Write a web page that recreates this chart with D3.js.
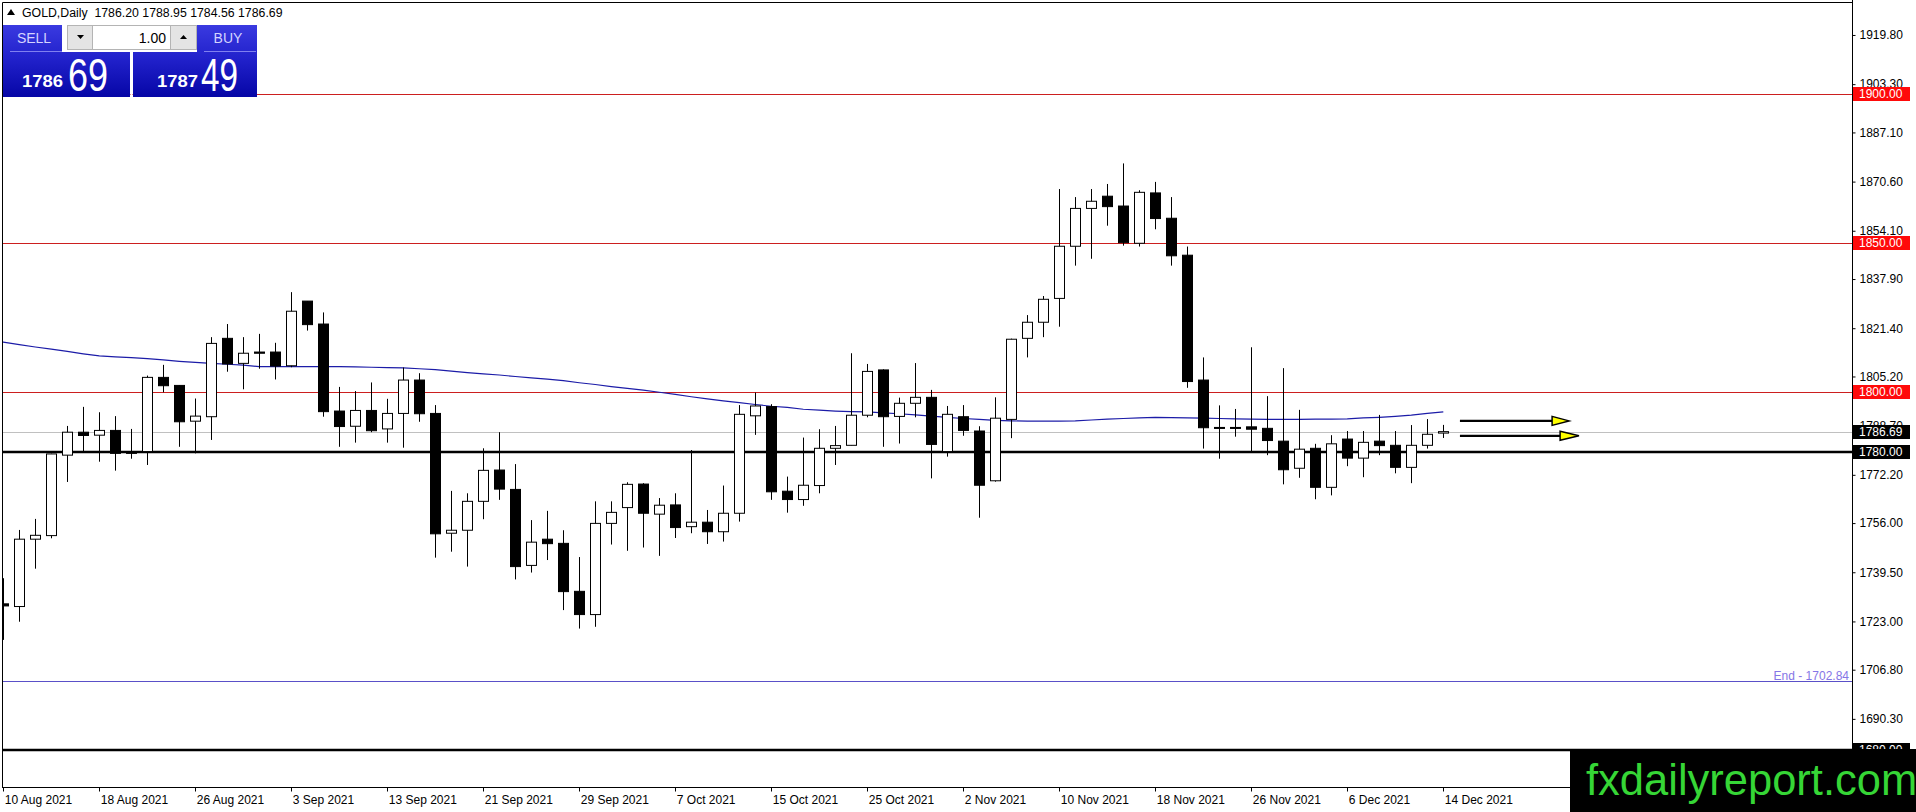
<!DOCTYPE html>
<html>
<head>
<meta charset="utf-8">
<script src="https://cdn.jsdelivr.net/npm/d3@7/dist/d3.min.js"></script>
<style>
body { margin: 0; background: #fff; overflow: hidden; }
text { font-family: "Liberation Sans", Arial, sans-serif; }
</style>
</head>
<body>
<script>
//trading days shown on the chart
var dates = [
    "2021-08-10", "2021-08-11", "2021-08-12", "2021-08-13", "2021-08-16", "2021-08-17", "2021-08-18", "2021-08-19",
    "2021-08-20", "2021-08-23", "2021-08-24", "2021-08-25", "2021-08-26", "2021-08-27", "2021-08-30", "2021-08-31",
    "2021-09-01", "2021-09-02", "2021-09-03", "2021-09-06", "2021-09-07", "2021-09-08", "2021-09-09", "2021-09-10",
    "2021-09-13", "2021-09-14", "2021-09-15", "2021-09-16", "2021-09-17", "2021-09-20", "2021-09-21", "2021-09-22",
    "2021-09-23", "2021-09-24", "2021-09-27", "2021-09-28", "2021-09-29", "2021-09-30", "2021-10-01", "2021-10-04",
    "2021-10-05", "2021-10-06", "2021-10-07", "2021-10-08", "2021-10-11", "2021-10-12", "2021-10-13", "2021-10-14",
    "2021-10-15", "2021-10-18", "2021-10-19", "2021-10-20", "2021-10-21", "2021-10-22", "2021-10-25", "2021-10-26",
    "2021-10-27", "2021-10-28", "2021-10-29", "2021-11-01", "2021-11-02", "2021-11-03", "2021-11-04", "2021-11-05",
    "2021-11-08", "2021-11-09", "2021-11-10", "2021-11-11", "2021-11-12", "2021-11-15", "2021-11-16", "2021-11-17",
    "2021-11-18", "2021-11-19", "2021-11-22", "2021-11-23", "2021-11-24", "2021-11-25", "2021-11-26", "2021-11-29",
    "2021-11-30", "2021-12-01", "2021-12-02", "2021-12-03", "2021-12-06", "2021-12-07", "2021-12-08", "2021-12-09",
    "2021-12-10", "2021-12-13", "2021-12-14"
];

var open = [
    1728.9, 1728.0, 1750.6, 1751.8, 1778.8, 1786.5, 1785.5, 1787.1, 1780.0, 1780.0, 1804.9, 1802.2, 1790.2, 1791.7, 1818.0, 1809.6,
    1813.4, 1813.4, 1808.8, 1830.5, 1822.8, 1793.6, 1788.5, 1793.8, 1787.6, 1792.8, 1804.0, 1792.8, 1752.6, 1753.6, 1763.3, 1773.8,
    1767.3, 1741.8, 1750.6, 1749.2, 1733.1, 1725.3, 1755.9, 1761.2, 1769.1, 1759.0, 1762.1, 1754.8, 1756.3, 1753.1, 1759.3, 1792.0,
    1795.1, 1766.7, 1763.9, 1768.6, 1781.1, 1782.1, 1792.2, 1807.4, 1791.8, 1796.2, 1798.2, 1780.0, 1791.7, 1786.9, 1770.2, 1790.8,
    1818.0, 1823.4, 1831.4, 1848.9, 1861.6, 1865.7, 1862.4, 1849.9, 1866.8, 1858.3, 1845.9, 1804.0, 1788.1, 1788.1, 1788.3, 1787.8,
    1783.5, 1774.4, 1781.1, 1768.0, 1784.2, 1777.8, 1783.5, 1782.1, 1774.7, 1782.1, 1786.20
];
var high = [
    1737.5, 1753.7, 1757.4, 1779.3, 1788.6, 1795.0, 1793.2, 1791.9, 1787.6, 1805.5, 1809.1, 1802.2, 1797.8, 1818.4, 1822.8, 1818.4,
    1819.5, 1816.5, 1833.5, 1830.5, 1826.7, 1801.7, 1800.3, 1803.2, 1797.7, 1808.2, 1806.3, 1795.6, 1766.8, 1766.0, 1781.1, 1786.5,
    1775.8, 1757.0, 1760.1, 1753.6, 1744.6, 1763.3, 1763.3, 1769.7, 1769.4, 1764.4, 1766.0, 1780.5, 1760.4, 1768.6, 1795.6, 1799.8,
    1795.9, 1771.6, 1784.7, 1787.5, 1788.6, 1813.0, 1809.4, 1807.6, 1798.1, 1809.7, 1800.7, 1795.3, 1795.6, 1788.5, 1798.2, 1817.9,
    1825.8, 1832.2, 1868.1, 1865.4, 1868.1, 1869.8, 1876.7, 1867.7, 1870.5, 1865.4, 1848.8, 1811.6, 1795.5, 1794.3, 1815.0, 1798.6,
    1808.0, 1794.0, 1782.6, 1785.5, 1786.9, 1786.9, 1792.3, 1786.9, 1788.9, 1790.9, 1788.95
];
var low = [
    1716.8, 1722.9, 1740.7, 1750.9, 1769.8, 1779.9, 1776.6, 1773.6, 1777.6, 1775.5, 1799.9, 1781.6, 1779.4, 1783.9, 1806.8, 1800.9,
    1807.8, 1804.2, 1808.3, 1820.6, 1791.7, 1781.6, 1783.0, 1786.5, 1783.0, 1781.3, 1790.0, 1744.4, 1746.4, 1741.4, 1757.3, 1763.8,
    1737.1, 1739.4, 1743.6, 1726.8, 1720.6, 1721.2, 1748.8, 1746.7, 1747.8, 1745.0, 1751.0, 1752.6, 1749.0, 1749.8, 1756.5, 1785.6,
    1763.8, 1759.5, 1761.8, 1766.0, 1775.5, 1782.1, 1791.5, 1781.6, 1782.7, 1791.5, 1771.0, 1778.3, 1785.3, 1757.8, 1769.9, 1784.5,
    1811.6, 1818.4, 1821.9, 1842.4, 1844.7, 1855.8, 1849.1, 1848.8, 1854.6, 1842.4, 1801.4, 1781.0, 1777.6, 1785.0, 1779.9, 1778.8,
    1769.0, 1771.2, 1764.0, 1765.3, 1775.1, 1771.4, 1778.8, 1772.7, 1769.4, 1781.0, 1784.56
];
var close = [
    1728.2, 1750.6, 1751.9, 1779.2, 1786.5, 1785.4, 1787.1, 1779.4, 1779.4, 1804.9, 1802.1, 1790.0, 1791.9, 1816.3, 1809.4, 1813.0,
    1813.0, 1808.7, 1827.1, 1822.6, 1793.4, 1788.4, 1793.8, 1787.0, 1792.8, 1804.0, 1792.7, 1752.4, 1753.6, 1763.3, 1773.7, 1767.4,
    1741.4, 1749.6, 1749.1, 1733.0, 1725.3, 1755.9, 1759.6, 1769.0, 1759.3, 1762.0, 1754.5, 1756.3, 1753.1, 1759.3, 1792.5, 1795.3,
    1766.5, 1763.9, 1768.7, 1781.1, 1782.0, 1792.2, 1806.9, 1791.7, 1796.2, 1798.2, 1782.4, 1792.5, 1787.1, 1768.7, 1791.2, 1817.7,
    1823.4, 1831.1, 1848.9, 1861.6, 1864.0, 1862.2, 1850.1, 1867.0, 1858.2, 1845.7, 1803.5, 1788.0, 1787.9, 1788.0, 1787.5, 1783.7,
    1773.9, 1780.8, 1768.0, 1782.6, 1777.8, 1783.1, 1782.0, 1774.7, 1782.1, 1785.8, 1786.69
];

//moving average (blue line), first value belongs to the bar before 10 Aug
var maBefore = 1817.4;
var maValues = [
    1816.7, 1815.9, 1815.1, 1814.4, 1813.6, 1812.8, 1812.1, 1811.8, 1811.5, 1811.2, 1810.8, 1810.3, 1809.9, 1809.6, 1809.3, 1809.0,
    1808.5, 1808.5, 1808.5, 1808.5, 1808.5, 1808.5, 1808.4, 1808.3, 1808.2, 1808.1, 1807.8, 1807.5, 1807.0, 1806.5, 1806.1, 1805.7,
    1805.2, 1804.7, 1804.3, 1803.8, 1803.1, 1802.5, 1801.8, 1801.2, 1800.6, 1799.9, 1799.2, 1798.4, 1797.7, 1797.0, 1796.4, 1795.8,
    1795.2, 1794.8, 1794.2, 1793.9, 1793.6, 1793.4, 1793.3, 1793.0, 1792.7, 1792.3, 1791.9, 1791.5, 1791.1, 1790.8, 1790.5, 1790.3,
    1790.2, 1790.2, 1790.2, 1790.3, 1790.6, 1790.9, 1791.1, 1791.3, 1791.5, 1791.4, 1791.3, 1791.2, 1791.1, 1791.0, 1790.9, 1790.8,
    1790.8, 1790.8, 1790.9, 1790.9, 1791.0, 1791.3, 1791.5, 1791.8, 1792.2, 1792.8, 1793.3
];

//price scale labels
var yTicks = [1919.80, 1903.30, 1887.10, 1870.60, 1854.10, 1837.90, 1821.40, 1805.20, 1788.70,
    1772.20, 1756.00, 1739.50, 1723.00, 1706.80, 1690.30];

//horizontal levels
var redLevels = [1900, 1850, 1800];
var blackLevels = [1780, 1680];
var bidPrice = 1786.69;
var askPrice = 1787.49;
var endLevel = 1702.84;
var lotSize = "1.00";

//arrows on the right: start bar, head base bar, tip bar, price
var arrowStart = [91.04, 91.04];
var arrowBase = [96.8, 97.3];
var arrowTip = [97.86, 98.48];
var arrowPrice = [1790.3, 1785.3];

var width = 1916;
var height = 812;
var plot = { left: 2, top: 2, right: 1852, bottom: 787 };

var svg = d3.select("body")
    .append("svg")
    .attr("width", width)
    .attr("height", height);
var defs = svg.append("defs");

defs.append("clipPath").attr("id", "plotClip")
    .append("rect")
    .attr("x", plot.left).attr("y", plot.top)
    .attr("width", plot.right - plot.left).attr("height", plot.bottom - plot.top);

//scales: one bar every 16px, 2.98px per dollar
var xScale = d3.scaleLinear()
    .domain([0, dates.length - 1])
    .range([3.3, 3.3 + 16 * (dates.length - 1)]);

var yScale = d3.scaleLinear()
    .domain([1667.1, 1931.54])
    .range([788, 0]);

var parseDate = d3.timeParse("%Y-%m-%d");
var fmtDate = d3.timeFormat("%-d %b %Y");

var chart = svg.append("g").attr("clip-path", "url(#plotClip)");

//red levels
chart.selectAll(".red-level")
    .data(redLevels)
    .enter()
    .append("line")
    .attr("class", "red-level")
    .attr("x1", plot.left).attr("x2", plot.right)
    .attr("y1", d => Math.round(yScale(d)) + 0.5)
    .attr("y2", d => Math.round(yScale(d)) + 0.5)
    .attr("stroke", "#cc1f1f")
    .attr("stroke-width", 1);

//bid line
chart.append("line")
    .attr("x1", plot.left).attr("x2", plot.right)
    .attr("y1", Math.round(yScale(bidPrice)) + 0.5)
    .attr("y2", Math.round(yScale(bidPrice)) + 0.5)
    .attr("stroke", "#c0c0c0");

//black levels
chart.selectAll(".black-level")
    .data(blackLevels)
    .enter()
    .append("line")
    .attr("x1", plot.left).attr("x2", plot.right)
    .attr("y1", d => Math.round(yScale(d)))
    .attr("y2", d => Math.round(yScale(d)))
    .attr("stroke", "#000")
    .attr("stroke-width", 2.4);

//end level
chart.append("line")
    .attr("x1", plot.left).attr("x2", plot.right)
    .attr("y1", Math.round(yScale(endLevel)) + 0.5)
    .attr("y2", Math.round(yScale(endLevel)) + 0.5)
    .attr("stroke", "#5a50c8");
chart.append("text")
    .attr("x", plot.right - 3)
    .attr("y", yScale(endLevel) - 1.5)
    .attr("text-anchor", "end")
    .attr("font-size", 12)
    .attr("fill", "#8576e6")
    .text("End - " + endLevel.toFixed(2));

//moving average
var maLine = d3.line()
    .x(d => xScale(d[0]))
    .y(d => yScale(d[1]));
var maPoints = [[-1, maBefore]].concat(maValues.map((v, i) => [i, v]));
chart.append("path")
    .attr("d", maLine(maPoints))
    .attr("fill", "none")
    .attr("stroke", "#1c1ca8")
    .attr("stroke-width", 1.2);

//candles
var bars = d3.range(dates.length);
var candle = chart.selectAll(".candle")
    .data(bars)
    .enter()
    .append("g")
    .attr("class", "candle");

candle.append("line")
    .attr("x1", i => Math.round(xScale(i)) + 0.5)
    .attr("x2", i => Math.round(xScale(i)) + 0.5)
    .attr("y1", i => yScale(high[i]))
    .attr("y2", i => yScale(low[i]))
    .attr("stroke", "#000")
    .attr("stroke-width", 1);

candle.append("rect")
    .attr("x", i => Math.round(xScale(i)) - 4.5)
    .attr("width", 10)
    .attr("y", i => yScale(Math.max(open[i], close[i])))
    .attr("height", i => Math.max(1, yScale(Math.min(open[i], close[i])) - yScale(Math.max(open[i], close[i]))))
    .attr("fill", i => close[i] >= open[i] ? "#fff" : "#000")
    .attr("stroke", "#000")
    .attr("stroke-width", 1);

//arrows
var arrows = d3.range(arrowPrice.length);
chart.selectAll(".arrow-line")
    .data(arrows)
    .enter()
    .append("line")
    .attr("x1", i => xScale(arrowStart[i]))
    .attr("x2", i => xScale(arrowBase[i]))
    .attr("y1", i => yScale(arrowPrice[i]))
    .attr("y2", i => yScale(arrowPrice[i]))
    .attr("stroke", "#000")
    .attr("stroke-width", 2.2);
chart.selectAll(".arrow-head")
    .data(arrows)
    .enter()
    .append("path")
    .attr("d", i => {
        var y = yScale(arrowPrice[i]);
        return "M" + xScale(arrowBase[i]) + "," + (y - 4.5) + "L" + xScale(arrowTip[i]) + "," + y +
            "L" + xScale(arrowBase[i]) + "," + (y + 4.5) + "Z";
    })
    .attr("fill", "#ffff00")
    .attr("stroke", "#000")
    .attr("stroke-width", 1.5);

//frame
svg.append("path")
    .attr("d", "M" + (plot.left + 0.5) + "," + (plot.bottom + 0.5) + "V" + (plot.top + 0.5) + "H" + (plot.right + 0.5))
    .attr("fill", "none")
    .attr("stroke", "#000");

//price axis
var yAxis = d3.axisRight(yScale)
    .tickValues(yTicks)
    .tickSize(3)
    .tickPadding(4)
    .tickFormat(d3.format(".2f"));
var yAxisG = svg.append("g")
    .attr("transform", "translate(" + (plot.right + 0.5) + ",0)")
    .call(yAxis);
yAxisG.selectAll("text").attr("font-size", 12).attr("font-family", "Liberation Sans, Arial, sans-serif").attr("fill", "#000");
yAxisG.select(".domain").attr("d", "M0,0V" + plot.bottom);

//time axis
var xAxis = d3.axisBottom(xScale)
    .tickValues(d3.range(0, dates.length, 6))
    .tickSize(4)
    .tickFormat(i => fmtDate(parseDate(dates[i])));
var xAxisG = svg.append("g")
    .attr("transform", "translate(0," + (plot.bottom + 0.5) + ")")
    .call(xAxis);
xAxisG.select(".domain").attr("d", "M" + plot.left + ",0H" + plot.right);
xAxisG.selectAll(".tick line").attr("transform", "translate(-0.3,0)");
xAxisG.selectAll("text")
    .attr("font-size", 12)
    .attr("font-family", "Liberation Sans, Arial, sans-serif")
    .attr("fill", "#000")
    .attr("text-anchor", "start")
    .attr("x", 1)
    .attr("y", 8)
    .attr("dy", "0.71em");

//price tags on the axis
var tags = [
    { v: 1900, bg: "#ff0a0a" }, { v: 1850, bg: "#ff0a0a" }, { v: 1800, bg: "#ff0a0a" },
    { v: bidPrice, bg: "#000" }, { v: 1780, bg: "#000" }, { v: 1680, bg: "#000" }
];
var tag = svg.selectAll(".tag")
    .data(tags)
    .enter()
    .append("g")
    .attr("transform", d => "translate(" + (plot.right + 1) + "," + Math.round(yScale(d.v)) + ")");
tag.append("rect")
    .attr("x", 0).attr("y", -7)
    .attr("width", 57).attr("height", 14)
    .attr("fill", d => d.bg);
tag.append("text")
    .attr("x", 6).attr("y", 0).attr("dy", "0.36em")
    .attr("font-size", 12)
    .attr("fill", "#fff")
    .text(d => d.v.toFixed(2));

//title line
svg.append("path")
    .attr("d", "M7,15L11,9L15,15Z")
    .attr("fill", "#000");
svg.append("text")
    .attr("x", 22).attr("y", 17)
    .attr("font-size", 12.3)
    .style("white-space", "pre")
    .text("GOLD,Daily  " + [open[90], high[90], low[90], close[90]].map(d3.format(".2f")).join(" "));

//one click trading panel
var grad = defs.append("linearGradient").attr("id", "panelGrad")
    .attr("x1", 0).attr("y1", 0).attr("x2", 0).attr("y2", 1);
grad.append("stop").attr("offset", "0%").attr("stop-color", "#3a3ae0");
grad.append("stop").attr("offset", "45%").attr("stop-color", "#2222cc");
grad.append("stop").attr("offset", "100%").attr("stop-color", "#0606a6");

var panel = svg.append("g");
var sides = [
    { label: "SELL", btnX: 3, shape: "M3,25H62V52H130V97H3Z", price: bidPrice, smallX: 22, bigX: 68, bigW: 40 },
    { label: "BUY", btnX: 197, shape: "M197,25H257V97H133V52H197Z", price: askPrice, smallX: 157, bigX: 201, bigW: 37 }
];
sides.forEach(function (s) {
    panel.append("path").attr("d", s.shape).attr("fill", "url(#panelGrad)");
    panel.append("line")
        .attr("x1", s.btnX + 7).attr("x2", s.btnX + 59).attr("y1", 51.5).attr("y2", 51.5)
        .attr("stroke", "#8080f0").attr("stroke-width", 1);
    panel.append("text")
        .attr("x", s.btnX + 31).attr("y", 43)
        .attr("text-anchor", "middle")
        .attr("font-size", 14)
        .attr("fill", "#d4d4ff")
        .text(s.label);
    var parts = s.price.toFixed(2).split(".");
    panel.append("text")
        .attr("x", s.smallX).attr("y", 87)
        .attr("font-size", 17).attr("font-weight", "bold")
        .attr("fill", "#fff")
        .attr("textLength", 41).attr("lengthAdjust", "spacingAndGlyphs")
        .text(parts[0]);
    panel.append("text")
        .attr("x", s.bigX).attr("y", 91)
        .attr("font-size", 46)
        .attr("fill", "#fff")
        .attr("textLength", s.bigW).attr("lengthAdjust", "spacingAndGlyphs")
        .text(parts[1]);
});
panel.append("line").attr("x1", 131.5).attr("x2", 131.5).attr("y1", 52).attr("y2", 97)
    .attr("stroke", "#fff").attr("stroke-width", 2);

//lot spinner
panel.append("rect").attr("x", 67.5).attr("y", 25.5).attr("width", 129).attr("height", 24)
    .attr("fill", "#fff").attr("stroke", "#b4b4b4");
panel.append("rect").attr("x", 67.5).attr("y", 25.5).attr("width", 25).attr("height", 24)
    .attr("fill", "#e4e4e4").attr("stroke", "#b4b4b4");
panel.append("rect").attr("x", 170.5).attr("y", 25.5).attr("width", 26).attr("height", 24)
    .attr("fill", "#e4e4e4").attr("stroke", "#b4b4b4");
panel.append("path").attr("d", "M77,35H84L80.5,39Z").attr("fill", "#000");
panel.append("path").attr("d", "M180,39H187L183.5,35Z").attr("fill", "#000");
panel.append("text")
    .attr("x", 166).attr("y", 43)
    .attr("text-anchor", "end")
    .attr("font-size", 14)
    .attr("fill", "#000")
    .text(lotSize);

//watermark banner
svg.append("rect")
    .attr("x", 1570).attr("y", 749)
    .attr("width", 346).attr("height", 63)
    .attr("fill", "#000");
svg.append("text")
    .attr("x", 1586).attr("y", 795)
    .attr("font-size", 43.5)
    .attr("fill", "#36d636")
    .text("fxdailyreport.com");
</script>
</body>
</html>
